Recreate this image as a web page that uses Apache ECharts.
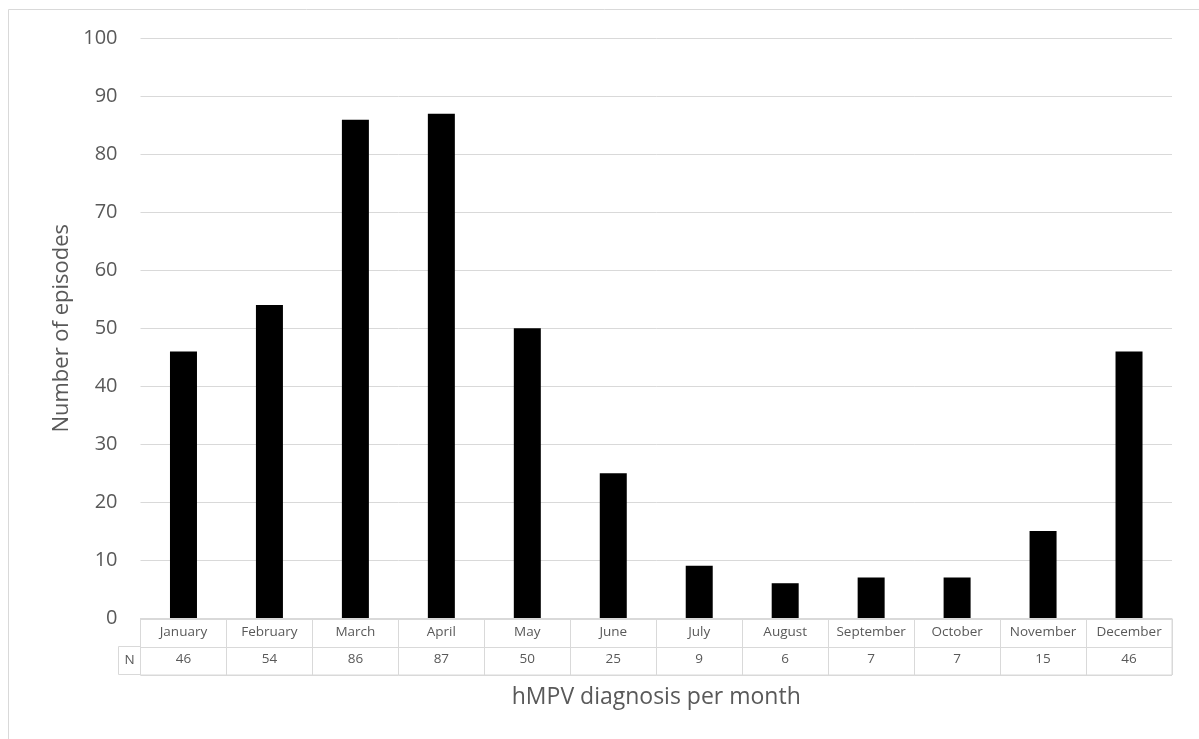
<!DOCTYPE html>
<html>
<head>
    <meta charset="utf-8">
    <script src="https://cdn.jsdelivr.net/npm/echarts@6/dist/echarts.min.js"></script>
</head>
<body style="margin:0;">
    <div id="container" style="width:1199px;height:739px;"></div>
    <script type="text/javascript">
        // data per month
        var months = ['January', 'February', 'March', 'April', 'May', 'June',
                      'July', 'August', 'September', 'October', 'November', 'December'];
        var episodes = [46, 54, 86, 87, 50, 25, 9, 6, 7, 7, 15, 46];
        var yTicks = [0, 10, 20, 30, 40, 50, 60, 70, 80, 90, 100];

        var font = '"Open Sans", Lato, sans-serif';
        var grey = '#595959';
        var line = '#d9d9d9';

        var chart = echarts.init(document.getElementById('container'));

        var option = {
            animation: false,
            backgroundColor: '#fff',
            textStyle: { fontFamily: font },
            grid: [
                { left: 140.5, top: 38.5, width: 1031.5, height: 579.5 },
                { left: 140.5, top: 619, width: 1031.5, height: 56, show: true, borderColor: line, borderWidth: 1 }
            ],
            xAxis: [
                {
                    gridIndex: 0,
                    type: 'category',
                    data: months,
                    axisLine: { lineStyle: { color: line } },
                    axisTick: { show: false },
                    axisLabel: { show: false }
                },
                {
                    gridIndex: 1,
                    type: 'category',
                    data: months,
                    axisLine: { show: false },
                    axisTick: { show: false },
                    splitLine: { show: true, interval: 0, lineStyle: { color: line, width: 1 } },
                    axisLabel: {
                        interval: 0,
                        margin: -56,
                        formatter: function (v, i) {
                            return '{m|' + v + '}\n{n|' + episodes[i] + '}';
                        },
                        rich: {
                            m: { fontSize: 13.5, lineHeight: 27, color: grey, fontFamily: font },
                            n: { fontSize: 13.5, lineHeight: 27, color: grey, fontFamily: font }
                        }
                    },
                    name: 'hMPV diagnosis per month',
                    nameLocation: 'middle',
                    nameGap: 11,
                    nameTextStyle: { fontSize: 23, color: grey, fontFamily: font, verticalAlign: 'top' }
                }
            ],
            yAxis: [
                {
                    gridIndex: 0,
                    type: 'value',
                    min: 0,
                    max: 100,
                    interval: 10,
                    axisLine: { show: false },
                    axisTick: { show: false },
                    splitLine: { lineStyle: { color: line, width: 1 } },
                    axisLabel: {
                        margin: 23,
                        fontSize: 20,
                        color: grey,
                        formatter: function (v) { return yTicks.indexOf(v) >= 0 ? String(v) : ''; }
                    },
                    name: 'Number of episodes',
                    nameLocation: 'middle',
                    nameGap: 66,
                    nameTextStyle: { fontSize: 22, color: grey, fontFamily: font }
                },
                {
                    gridIndex: 1,
                    type: 'value',
                    min: 0,
                    max: 2,
                    interval: 1,
                    axisLine: { show: false },
                    axisTick: { show: false },
                    axisLabel: { show: false },
                    splitLine: { show: true, lineStyle: { color: line, width: 1 } }
                }
            ],
            graphic: [
                {
                    type: 'rect',
                    shape: { x: 8.5, y: 9.5, width: 1300, height: 1000 },
                    style: { fill: null, stroke: line, lineWidth: 1 },
                    silent: true
                },
                {
                    type: 'rect',
                    shape: { x: 118.5, y: 646.5, width: 22, height: 28 },
                    style: { fill: null, stroke: line, lineWidth: 1 },
                    silent: true
                },
                {
                    type: 'text',
                    x: 129.5,
                    y: 660.5,
                    style: { text: 'N', fontSize: 13.5, fill: grey, fontFamily: font, align: 'center', verticalAlign: 'middle' }
                }
            ],
            series: [
                {
                    name: 'Number of episodes',
                    type: 'bar',
                    xAxisIndex: 0,
                    yAxisIndex: 0,
                    barWidth: 27,
                    itemStyle: { color: '#000' },
                    data: episodes
                }
            ]
        };

        chart.setOption(option);
    </script>
</body>
</html>
